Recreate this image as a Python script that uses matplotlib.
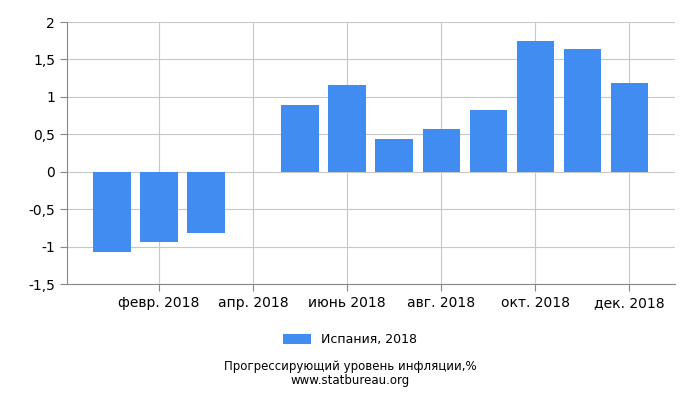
import matplotlib
matplotlib.use("Agg")
import matplotlib.pyplot as plt

months = list(range(12))
values = [-1.07, -0.94, -0.82, -0.01, 0.89, 1.16, 0.44, 0.57, 0.82, 1.75, 1.64, 1.19]
tick_pos = [1, 3, 5, 7, 9, 11]
tick_labels = ["февр. 2018", "апр. 2018", "июнь 2018", "авг. 2018", "окт. 2018", "дек. 2018"]
y_ticks = [-1.5, -1, -0.5, 0, 0.5, 1, 1.5, 2]
y_labels = ["-1,5", "-1", "-0,5", "0", "0,5", "1", "1,5", "2"]

fig = plt.figure(figsize=(7, 4), dpi=100)
ax = fig.add_axes([0.0957, 0.29, 0.868, 0.655])
ax.bar(months, values, width=0.8, color="#418cf0", label="Испания, 2018", zorder=3)
ax.set_xlim(-0.96, 11.96)
ax.set_ylim(-1.5, 2)
ax.set_xticks(tick_pos)
ax.set_xticklabels(tick_labels, fontsize=10)
ax.set_yticks(y_ticks)
ax.set_yticklabels(y_labels, fontsize=10)
ax.grid(True, color="#c8c8c8", linewidth=0.8, zorder=0)
for s in ["top", "right"]:
    ax.spines[s].set_visible(False)
ax.spines["left"].set_color("#888888")
ax.spines["bottom"].set_color("#888888")
ax.tick_params(axis="both", length=5, color="#888888")
fig.legend(loc="center", bbox_to_anchor=(0.5, 0.15), frameon=False, fontsize=9,
           handlelength=2.2, handleheight=0.9)
fig.text(0.5, 0.074, "Прогрессирующий уровень инфляции,%", ha="center", fontsize=8.5)
fig.text(0.5, 0.040, "www.statbureau.org", ha="center", fontsize=8.5)
fig.savefig("out.png", dpi=100)
